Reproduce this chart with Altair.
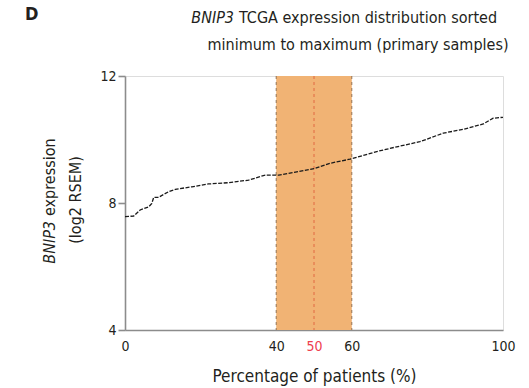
import altair as alt
import pandas as pd

# Sorted expression curve (percentage of patients, log2 RSEM)
pct = [0, 2.3, 4.0, 6.3, 7.1, 7.6, 8.9, 11.6, 13.3, 17.7, 22.1, 27.4, 32.7, 37.1,
       40.7, 45.1, 50.3, 54.2, 59.5, 66.6, 71.9, 78.0, 84.2, 89.5, 94.8, 97.4, 100]
expr = [7.57, 7.59, 7.78, 7.88, 7.99, 8.18, 8.18, 8.36, 8.43, 8.51, 8.60, 8.64, 8.72, 8.88,
        8.88, 8.97, 9.09, 9.25, 9.38, 9.62, 9.77, 9.93, 10.20, 10.32, 10.49, 10.67, 10.70]

band_start = [40]
band_end = [60]
edge_lines = [40, 60]
median_line = [50]
x_ticks = [0, 40, 50, 60, 100]
y_ticks = [4, 8, 12]

FONT = "'Liberation Sans Narrow', 'DejaVu Sans Condensed', 'Noto Sans', sans-serif"
TXT = "#231f20"
W, H = 378, 254

curve = pd.DataFrame({"pct": pct, "expr": expr})
band = pd.DataFrame({"pct": band_start, "pct_end": band_end})
edges = pd.DataFrame({"pct": edge_lines})
med = pd.DataFrame({"pct": median_line})

xscale = alt.Scale(domain=[0, 100], nice=False, zero=False)
yscale = alt.Scale(domain=[4, 12], nice=False, zero=False)

xaxis = alt.Axis(values=x_ticks, title="Percentage of patients (%)", ticks=False,
                 grid=False, domainColor="#8c8c8c", domainWidth=1.6,
                 labelFont=FONT, labelFontSize=14,
                 labelColor=alt.expr("datum.value == 50 ? '#ee3e4e' : '#231f20'"),
                 labelPadding=9, labelFlush=False,
                 titleFont=FONT, titleFontSize=17, titleFontWeight="normal",
                 titleColor=TXT, titlePadding=15)
yaxis = alt.Axis(values=y_ticks, title=None, grid=False, tickSize=7,
                 tickColor="#8c8c8c", tickWidth=1.6, domainColor="#8c8c8c",
                 domainWidth=1.6, labelFont=FONT, labelFontSize=14, labelColor=TXT,
                 labelPadding=2)

band_layer = alt.Chart(band).mark_rect(color="#f1b374", opacity=1).encode(
    x=alt.X("pct:Q", scale=xscale, axis=xaxis),
    x2="pct_end:Q",
    y=alt.value(0), y2=alt.value(H))

edge_layer = alt.Chart(edges).mark_rule(color="#8a6a4a", strokeDash=[3, 3], strokeWidth=0.9).encode(
    x=alt.X("pct:Q", scale=xscale, axis=xaxis), y=alt.value(0), y2=alt.value(H))

med_layer = alt.Chart(med).mark_rule(color="#e0603c", strokeDash=[3, 3], strokeWidth=0.9).encode(
    x=alt.X("pct:Q", scale=xscale, axis=xaxis), y=alt.value(0), y2=alt.value(H))

line_layer = alt.Chart(curve).mark_line(color="#1a1a1a", strokeWidth=1.3,
                                        strokeDash=[4, 1.5]).encode(
    x=alt.X("pct:Q", scale=xscale, axis=xaxis),
    y=alt.Y("expr:Q", scale=yscale, axis=yaxis))

def txt(s, x, y, size, style="normal", weight="normal", align="left", angle=0):
    kw = dict(text=s, font=FONT, fontSize=size, fontStyle=style, fontWeight=weight,
              align=align, baseline="middle", color=TXT)
    if angle:
        kw["angle"] = angle
    return alt.Chart(pd.DataFrame({"a": [0]})).mark_text(**kw).encode(
        x=alt.value(x), y=alt.value(y))

labels = [
    txt("D", -100, -61, 18, weight="bold"),
    txt("BNIP3", 109, -58, 16, style="italic", align="right"),
    txt("TCGA expression distribution sorted", 114, -58, 16),
    txt("minimum to maximum (primary samples)", 233, -31, 16, align="center"),
    txt("BNIP3", -75, 145, 16, style="italic", align="right", angle=270),
    txt("expression", -75, 140, 16, angle=270),
    txt("(log2 RSEM)", -49, 124, 16, align="center", angle=270),
]

chart = alt.layer(band_layer, edge_layer, med_layer, line_layer, *labels).properties(
    width=W, height=H,
    autosize=alt.AutoSizeParams(type="none"),
    padding={"left": 125, "top": 76, "right": 26, "bottom": 58},
).configure_view(stroke=None).configure(background="white")

chart.save("out.html", embed_options={"renderer": "svg", "actions": False})
